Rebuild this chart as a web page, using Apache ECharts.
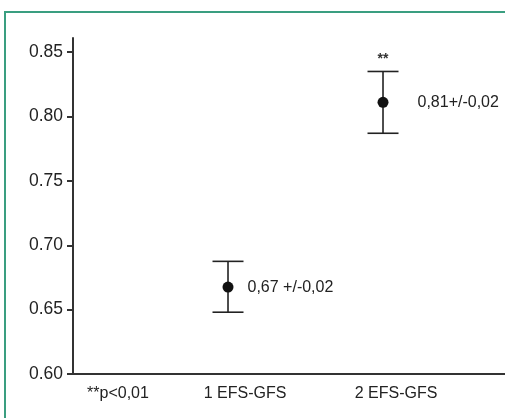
<!DOCTYPE html>
<html>
<head>
<meta charset="utf-8">
<script src="https://cdn.jsdelivr.net/npm/echarts@6/dist/echarts.min.js"></script>
<style>
html,body{margin:0;padding:0;background:#fff;}
#c{width:505px;height:418px;}
</style>
</head>
<body>
<div id="c"></div>
<script>
// ---- data ----
var groups = ['1 EFS-GFS', '2 EFS-GFS'];
var groupX = [1, 2];
var means = [0.6675, 0.811];
var lows = [0.648, 0.787];
var highs = [0.6875, 0.835];
var valueLabels = ['0,67 +/-0,02', '0,81+/-0,02'];
var significance = ['', '**'];
var footnote = '**p<0,01';
var yTicks = [0.60, 0.65, 0.70, 0.75, 0.80, 0.85];

var FONT = '"Liberation Sans", Arial, sans-serif';
var TXT = '#222';
var chart = echarts.init(document.getElementById('c'), null, {renderer: 'canvas'});

var labelDist = [14, 29];
var scatterData = groupX.map(function (x, i) {
  return {value: [x, means[i]], label: {formatter: valueLabels[i], distance: labelDist[i]}};
});
var barData = groupX.map(function (x, i) { return [x, lows[i], highs[i], i]; });

var option = {
  backgroundColor: '#fff',
  animation: false,
  grid: {left: 73, right: 0, top: 38, bottom: 44},
  xAxis: {
    type: 'value', min: 0, max: 2.787,
    axisLine: {show: true, lineStyle: {color: '#333', width: 2}},
    axisTick: {show: false},
    splitLine: {show: false},
    axisLabel: {
      customValues: [0, 1, 2],
      margin: 12,
      formatter: function (v) {
        if (v === 0) return '{a|' + footnote + '}';
        if (v === 1) return '{b|' + groups[0] + '}';
        if (v === 2) return '{c|' + groups[1] + '}';
        return '';
      },
      rich: {
        a: {fontSize: 16, fontFamily: FONT, color: TXT, padding: [0, 0, 0, 90]},
        b: {fontSize: 16, fontFamily: FONT, color: TXT, padding: [0, 0, 0, 34]},
        c: {fontSize: 16, fontFamily: FONT, color: TXT, padding: [0, 0, 0, 26]}
      }
    }
  },
  yAxis: {
    type: 'value', min: 0.6, max: 0.861,
    axisLine: {show: true, lineStyle: {color: '#333', width: 2}},
    axisTick: {show: true, length: 6, lineStyle: {color: '#333', width: 2}, customValues: yTicks},
    splitLine: {show: false},
    axisLabel: {
      customValues: yTicks,
      margin: 10,
      fontSize: 17.5, fontFamily: FONT, color: TXT,
      formatter: function (v) { return v.toFixed(2); }
    }
  },
  graphic: [{
    type: 'polyline',
    shape: {points: [[5, 418], [5, 12], [505, 12]]},
    style: {stroke: '#3a9e80', lineWidth: 2, fill: null},
    silent: true
  }],
  series: [
    {
      type: 'custom',
      data: barData,
      renderItem: function (params, api) {
        var x = api.value(0);
        var lo = api.coord([x, api.value(1)]);
        var hi = api.coord([x, api.value(2)]);
        var idx = api.value(3);
        var hw = 15.5;
        var st = {stroke: '#222', lineWidth: 1.6};
        var children = [
          {type: 'line', shape: {x1: lo[0], y1: lo[1], x2: hi[0], y2: hi[1]}, style: st},
          {type: 'line', shape: {x1: hi[0] - hw, y1: hi[1], x2: hi[0] + hw, y2: hi[1]}, style: st},
          {type: 'line', shape: {x1: lo[0] - hw, y1: lo[1], x2: lo[0] + hw, y2: lo[1]}, style: st}
        ];
        if (significance[idx]) {
          children.push({
            type: 'text',
            style: {x: hi[0], y: hi[1] - 5, text: significance[idx], align: 'center', verticalAlign: 'bottom',
              fontSize: 14, fontWeight: 'bold', fontFamily: FONT, fill: '#333'}
          });
        }
        return {type: 'group', children: children};
      },
      z: 2
    },
    {
      type: 'scatter',
      data: scatterData,
      symbol: 'circle',
      symbolSize: 11,
      itemStyle: {color: '#111', opacity: 1},
      label: {show: true, position: 'right', fontSize: 16, fontFamily: FONT, color: TXT},
      z: 3
    }
  ]
};
chart.setOption(option);
</script>
</body>
</html>
